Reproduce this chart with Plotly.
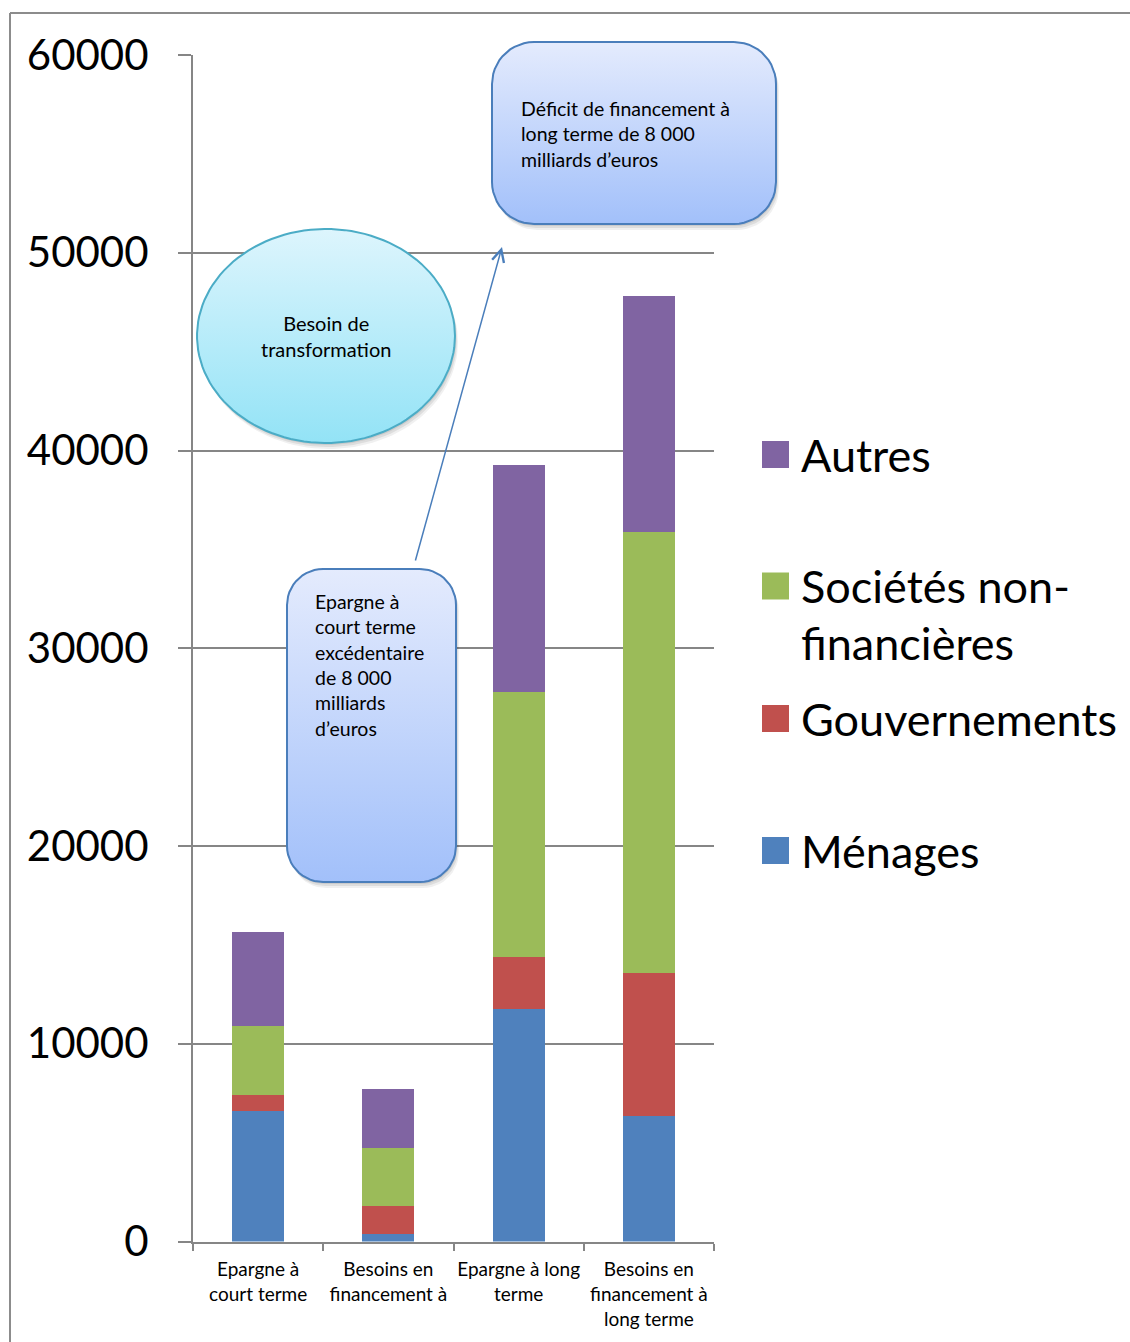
import numpy as np
import plotly.graph_objects as go

# ---------------- data ----------------
categories = ["Epargne à<br>court terme", "Besoins en<br>financement à",
              "Epargne à long<br>terme", "Besoins en<br>financement à<br>long terme"]
menages = [6600, 400, 11750, 6350]
gouvernements = [800, 1400, 2630, 7230]
societes = [3500, 2930, 13400, 22300]
autres = [4750, 2980, 11480, 11930]
series_names = ["Ménages", "Gouvernements", "Sociétés non-<br>financières", "Autres"]
series_colors = ["#4F81BD", "#C0504D", "#9BBB59", "#8064A2"]
y_ticks = [0, 10000, 20000, 30000, 40000, 50000, 60000]

callout_top = "Déficit de financement à<br>long terme de 8 000<br>milliards d’euros"
callout_mid = "Epargne à<br>court terme<br>excédentaire<br>de 8 000<br>milliards<br>d’euros"
callout_ellipse = "Besoin de<br>transformation"

W, H = 1130, 1342
FONT = "Lato"
GRID = "#868686"

fig = go.Figure()

# ---------------- stacked bars ----------------
for name, vals, col in zip(series_names, [menages, gouvernements, societes, autres], series_colors):
    fig.add_trace(go.Bar(x=categories, y=vals, name=name.replace("<br>", ""),
                         marker=dict(color=col, line=dict(width=0)),
                         showlegend=False, xaxis="x", yaxis="y"))

# ---------------- decoration helpers (pixel space on overlay axes) ----------------
def rounded_rect(x0, y0, x1, y1, r, n=14):
    xs, ys = [], []
    corners = [(x1 - r, y0 + r, -90, 0), (x1 - r, y1 - r, 0, 90),
               (x0 + r, y1 - r, 90, 180), (x0 + r, y0 + r, 180, 270)]
    for cx, cy, a0, a1 in corners:
        t = np.radians(np.linspace(a0, a1, n))
        xs += list(cx + r * np.cos(t))
        ys += list(cy + r * np.sin(t))
    xs.append(xs[0]); ys.append(ys[0])
    return xs, ys


def ellipse(cx, cy, rx, ry, n=120):
    t = np.linspace(0, 2 * np.pi, n)
    return list(cx + rx * np.cos(t)), list(cy + ry * np.sin(t))


def add_shape_trace(xs, ys, top_col, bot_col, line_col, y0, y1):
    # soft shadow
    for off, a in [(6, 0.06), (4, 0.08), (2, 0.08)]:
        fig.add_trace(go.Scatter(x=[v + off * 0.5 for v in xs], y=[v + off for v in ys],
                                 mode="lines", fill="toself", line=dict(width=0),
                                 fillcolor=f"rgba(0,0,0,{a})", hoverinfo="skip",
                                 showlegend=False, xaxis="x2", yaxis="y2"))
    fig.add_trace(go.Scatter(x=xs, y=ys, mode="lines", fill="toself",
                             line=dict(color=line_col, width=2),
                             fillgradient=dict(type="vertical",
                                               colorscale=[[0, top_col], [1, bot_col]],
                                               start=y0, stop=y1),
                             hoverinfo="skip", showlegend=False, xaxis="x2", yaxis="y2"))


ex, ey = ellipse(326, 336, 129, 107)
add_shape_trace(ex, ey, "#DDF5FD", "#93E3F6", "#4BACC6", 229, 443)
tx, ty = rounded_rect(492, 42, 776, 224, 42)
add_shape_trace(tx, ty, "#E4EBFD", "#A2C0FA", "#4A7EBB", 42, 224)
mx, my = rounded_rect(287, 569, 456, 882, 36)
add_shape_trace(mx, my, "#E4EBFD", "#A2C0FA", "#4A7EBB", 569, 882)

annotations = [
    dict(x=326, y=336, xref="x2", yref="y2", text=callout_ellipse, showarrow=False,
         xanchor="center", yanchor="middle", align="center",
         font=dict(family=FONT, size=20, color="black")),
    dict(x=519, y=95, xref="x2", yref="y2", text=callout_top, showarrow=False,
         xanchor="left", yanchor="top", align="left",
         font=dict(family=FONT, size=19.5, color="black")),
    dict(x=313, y=588, xref="x2", yref="y2", text=callout_mid, showarrow=False,
         xanchor="left", yanchor="top", align="left",
         font=dict(family=FONT, size=19.5, color="black")),
    dict(x=502, y=247, ax=415, ay=562, xref="x2", yref="y2", axref="x2", ayref="y2",
         text="", showarrow=True, arrowhead=5, arrowsize=1.6, arrowwidth=1.5,
         arrowcolor="#4A7EBB"),
]

# ---------------- manual legend (top to bottom) ----------------
legend_y = [454.5, 586, 718.5, 850.5]
order = [3, 2, 1, 0]
shapes = []
for yy, idx in zip(legend_y, order):
    shapes.append(dict(type="rect", xref="paper", yref="paper",
                       x0=762 / W, x1=789 / W, y0=1 - (yy + 13.5) / H, y1=1 - (yy - 13.5) / H,
                       fillcolor=series_colors[idx], line=dict(width=0)))
    for k, line in enumerate(series_names[idx].split("<br>")):
        annotations.append(dict(x=799 / W, y=1 - (yy + 57 * k) / H, xref="paper", yref="paper",
                                text=line, showarrow=False, xanchor="left", yanchor="middle",
                                font=dict(family=FONT, size=45, color="black")))

# outer frame
shapes.append(dict(type="line", xref="paper", yref="paper", x0=10 / W, x1=1, y0=1 - 13 / H, y1=1 - 13 / H,
                   line=dict(color="#8C8C8C", width=2)))
shapes.append(dict(type="line", xref="paper", yref="paper", x0=10 / W, x1=10 / W, y0=1 - 13 / H, y1=0,
                   line=dict(color="#8C8C8C", width=2)))

fig.update_layout(
    width=W, height=H,
    margin=dict(l=0, r=0, t=0, b=0, autoexpand=False),
    paper_bgcolor="white", plot_bgcolor="rgba(0,0,0,0)",
    barmode="stack", bargap=0.6,
    font=dict(family=FONT, color="black"),
    showlegend=False,
    xaxis=dict(domain=[193 / W, 714 / W], type="category", range=[-0.5, 3.5],
               showline=True, linecolor=GRID, linewidth=2, automargin=False,
               ticks="outside", tickson="boundaries", ticklen=7, tickwidth=2, tickcolor=GRID,
               tickangle=0, ticklabelstandoff=10,
               tickfont=dict(family=FONT, size=19, color="black"), showgrid=False,
               anchor="y"),
    yaxis=dict(domain=[1 - 1241.5 / H, 1 - 55 / H], range=[0, 60000], automargin=False,
               tickvals=y_ticks, ticktext=[str(v) for v in y_ticks],
               showgrid=True, gridcolor=GRID, gridwidth=2, zeroline=False,
               showline=True, linecolor=GRID, linewidth=2,
               ticks="outside", ticklen=13, tickwidth=2, tickcolor=GRID,
               ticklabelstandoff=21,
               tickfont=dict(family=FONT, size=42, color="black"), anchor="x"),
    xaxis2=dict(domain=[0, 1], range=[0, W], visible=False, anchor="y2", fixedrange=True,
                automargin=False),
    yaxis2=dict(domain=[0, 1], range=[H, 0], visible=False, anchor="x2", fixedrange=True,
                automargin=False),
    annotations=annotations,
    shapes=shapes,
)

fig.write_html("out.html", config={"displayModeBar": False},
               post_script="document.body.style.margin='0';document.body.style.overflow='hidden';")
